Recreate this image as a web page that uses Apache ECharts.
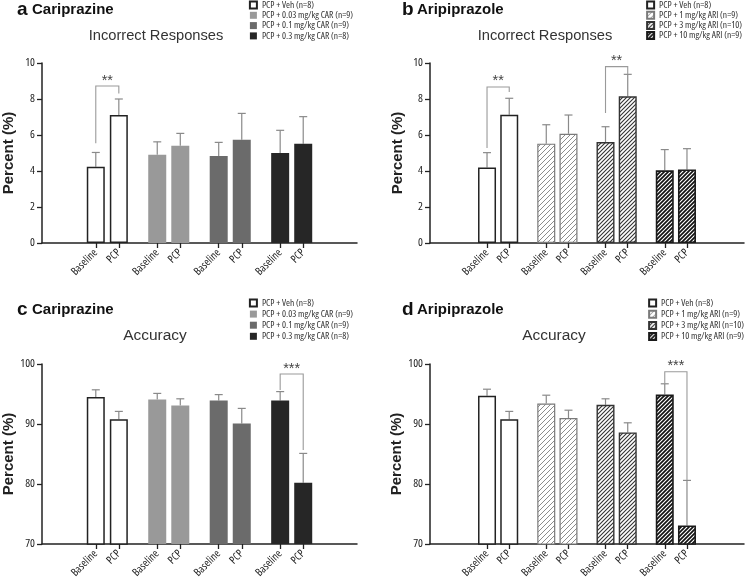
<!DOCTYPE html>
<html><head><meta charset="utf-8">
<script src="https://cdn.jsdelivr.net/npm/echarts@6/dist/echarts.min.js"></script>
<style>html,body{margin:0;padding:0;background:#fff}#c{width:746px;height:583px}</style>
</head><body><div id="c"></div><script>
// ---------------- data ----------------
const xLabels = ['Baseline', 'PCP'];
const carGroups = ['PCP + Veh (n=8)', 'PCP + 0.03 mg/kg CAR (n=9)', 'PCP + 0.1 mg/kg CAR (n=9)', 'PCP + 0.3 mg/kg CAR (n=8)'];
const ariGroups = ['PCP + Veh (n=8)', 'PCP + 1 mg/kg ARI (n=9)', 'PCP + 3 mg/kg ARI (n=10)', 'PCP + 10 mg/kg ARI (n=9)'];

const incorrectCarMean = [4.23, 7.11, 4.90, 5.40, 4.84, 5.73, 5.00, 5.52];
const incorrectCarSem  = [0.80, 0.89, 0.72, 0.69, 0.75, 1.47, 1.26, 1.50];
const incorrectAriMean = [4.19, 7.13, 5.52, 6.07, 5.61, 8.15, 4.04, 4.09];
const incorrectAriSem  = [0.83, 0.91, 1.05, 1.04, 0.85, 1.22, 1.15, 1.15];
const accuracyCarMean  = [94.5, 90.8, 94.1, 93.1, 93.9, 90.1, 93.9, 80.2];
const accuracyCarSem   = [1.2, 1.3, 1.0, 1.1, 1.0, 2.5, 1.5, 4.9];
const accuracyAriMean  = [94.7, 90.8, 93.4, 91.0, 93.2, 88.6, 94.9, 73.1];
const accuracyAriSem   = [1.1, 1.3, 1.4, 1.3, 1.0, 1.6, 1.8, 7.5];

const incorrectTicks = {min: 0, max: 10, interval: 2};
const accuracyTicks  = {min: 70, max: 100, interval: 10};

// significance brackets: bar indices, bracket top, leg ends (data units)
const sigIncorrectCar = [{from: 0, to: 1, top: 8.72, leftEnd: 5.54, rightEnd: 8.30, label: '**'}];
const sigIncorrectAri = [{from: 0, to: 1, top: 8.67, leftEnd: 5.28, rightEnd: 8.39, label: '**'},
                         {from: 4, to: 5, top: 9.80, leftEnd: 7.22, rightEnd: 9.37, label: '**'}];
const sigAccuracyCar  = [{from: 6, to: 7, top: 98.33, leftEnd: 95.67, rightEnd: 85.67, label: '***'}];
const sigAccuracyAri  = [{from: 6, to: 7, top: 98.72, leftEnd: 96.67, rightEnd: 80.67, label: '***'}];

// ---------------- layout / styles ----------------
const NARROW = '"Open Sans", "Roboto Condensed", sans-serif';
const STRETCH = 'condensed';
const SANS = '"Liberation Sans", Arial, sans-serif';
const PAIR = 3, GROUP = 8;
const pos = k => Math.floor(k / 2) * GROUP + (k % 2) * PAIR;
const positions = [0, 1, 2, 3, 4, 5, 6, 7].map(pos);

function hatch(s, color, lw) {
  const c = document.createElement('canvas');
  c.width = s; c.height = s;
  const ctx = c.getContext('2d');
  ctx.fillStyle = '#fff'; ctx.fillRect(0, 0, s, s);
  ctx.strokeStyle = color; ctx.lineWidth = lw; ctx.lineCap = 'square';
  ctx.beginPath();
  ctx.moveTo(0, s); ctx.lineTo(s, 0);
  ctx.moveTo(-s / 2, s / 2); ctx.lineTo(s / 2, -s / 2);
  ctx.moveTo(s / 2, 3 * s / 2); ctx.lineTo(3 * s / 2, s / 2);
  ctx.stroke();
  return {image: c, repeat: 'repeat'};
}
const vehStyle = {color: '#fff', borderColor: '#222', borderWidth: 1.5};
const carStyles = [vehStyle, {color: '#999999'}, {color: '#6b6b6b'}, {color: '#262626'}];
const ariStyles = [vehStyle,
  {color: hatch(5, '#8c8c8c', 1), borderColor: '#7a7a7a', borderWidth: 1.2},
  {color: hatch(4, '#333', 1.1), borderColor: '#333', borderWidth: 1.4},
  {color: hatch(4, '#111', 1.7), borderColor: '#1a1a1a', borderWidth: 1.6}];

const panels = [
  {grid: {left: 42, top: 63, width: 315, height: 180}, xmin: -7, xmax: 34, mean: incorrectCarMean, sem: incorrectCarSem,
   groups: carGroups, styles: carStyles, sig: sigIncorrectCar, ticks: incorrectTicks,
   letter: 'a', drug: 'Cariprazine', lx: 17, base: 15, sub: 'Incorrect Responses', subSize: 14.7, subX: 156, subY: 36,
   legend: {right: 393, top: 0, itemGap: 0.3}},
  {grid: {left: 430, top: 63, width: 314, height: 180}, xmin: -7.7, xmax: 34.7, mean: incorrectAriMean, sem: incorrectAriSem,
   groups: ariGroups, styles: ariStyles, sig: sigIncorrectAri, ticks: incorrectTicks,
   letter: 'b', drug: 'Aripiprazole', lx: 402, base: 15, sub: 'Incorrect Responses', subSize: 14.7, subX: 545, subY: 36,
   legend: {right: 4, top: 0, itemGap: 0.2}},
  {grid: {left: 42, top: 364, width: 315, height: 180}, xmin: -7, xmax: 34, mean: accuracyCarMean, sem: accuracyCarSem,
   groups: carGroups, styles: carStyles, sig: sigAccuracyCar, ticks: accuracyTicks,
   letter: 'c', drug: 'Cariprazine', lx: 17, base: 315, sub: 'Accuracy', subSize: 15.5, subX: 155, subY: 336,
   legend: {right: 393, top: 298, itemGap: 1.1}},
  {grid: {left: 430, top: 364, width: 314, height: 180}, xmin: -7.7, xmax: 34.7, mean: accuracyAriMean, sem: accuracyAriSem,
   groups: ariGroups, styles: ariStyles, sig: sigAccuracyAri, ticks: accuracyTicks,
   letter: 'd', drug: 'Aripiprazole', lx: 402, base: 315, sub: 'Accuracy', subSize: 15.5, subX: 554, subY: 336,
   legend: {right: 2, top: 298, itemGap: 1.2}}
];

const grids = [], xAxes = [], yAxes = [], series = [], legends = [], graphics = [];

function errorBarItem(params, api) {
  const x = api.value(0), m = api.value(1), s = api.value(2);
  const p0 = api.coord([x, m]), p1 = api.coord([x, m + s]);
  const st = {stroke: '#8a8a8a', lineWidth: 1.2};
  return {type: 'group', children: [
    {type: 'line', shape: {x1: p0[0], y1: p0[1], x2: p1[0], y2: p1[1]}, style: st},
    {type: 'line', shape: {x1: p1[0] - 4, y1: p1[1], x2: p1[0] + 4, y2: p1[1]}, style: st}
  ]};
}
function bracketRenderer(sig) {
  return function (params, api) {
    const a = api.value(0), b = api.value(1), top = api.value(2), le = api.value(3), re = api.value(4);
    const pTopL = api.coord([a, top]), pTopR = api.coord([b, top]);
    const pL = api.coord([a, le]), pR = api.coord([b, re]);
    return {type: 'group', children: [
      {type: 'polyline', shape: {points: [pL, pTopL, pTopR, pR]}, style: {stroke: '#9a9a9a', lineWidth: 1.1, fill: null}},
      {type: 'text', x: (pTopL[0] + pTopR[0]) / 2, y: pTopL[1] - 5.5,
       style: {text: sig[params.dataIndex].label, fontSize: 14.5, fontFamily: SANS, fill: '#444', align: 'center', verticalAlign: 'middle'}}
    ]};
  };
}

panels.forEach((p, i) => {
  grids.push(Object.assign({containLabel: false}, p.grid));
  xAxes.push({
    type: 'value', gridIndex: i, min: p.xmin, max: p.xmax, splitLine: {show: false},
    axisLine: {show: true, onZero: false, lineStyle: {color: '#222', width: 1.5}},
    axisTick: {show: true, customValues: positions, length: 5, lineStyle: {color: '#222', width: 1.3}},
    axisLabel: {show: true, customValues: positions, rotate: 45, margin: 8, fontSize: 11, fontFamily: NARROW, fontStyle: STRETCH, color: '#222',
      formatter: v => xLabels[positions.indexOf(Math.round(v)) % 2]}
  });
  yAxes.push({
    type: 'value', gridIndex: i, min: p.ticks.min, max: p.ticks.max, interval: p.ticks.interval, splitLine: {show: false},
    axisLine: {show: true, onZero: false, lineStyle: {color: '#222', width: 1.5}},
    axisTick: {show: true, length: 5, lineStyle: {color: '#222', width: 1.3}},
    axisLabel: {fontSize: 11.5, fontFamily: NARROW, fontStyle: STRETCH, color: '#222', margin: 7},
    name: 'Percent (%)', nameLocation: 'middle', nameGap: i % 2 ? 25 : 26,
    nameTextStyle: {fontSize: 15, fontWeight: 'bold', fontFamily: SANS, color: '#222'}
  });
  p.groups.forEach((name, g) => {
    series.push({
      type: 'bar', name, xAxisIndex: i, yAxisIndex: i, barWidth: 18, barGap: '-100%', z: 3,
      itemStyle: p.styles[g], emphasis: {disabled: true},
      data: [0, 1].map(w => [pos(g * 2 + w), p.mean[g * 2 + w]])
    });
  });
  series.push({
    type: 'custom', xAxisIndex: i, yAxisIndex: i, z: 2, silent: true, renderItem: errorBarItem,
    encode: {x: 0, y: [1, 2]},
    data: p.mean.map((m, k) => [pos(k), m, p.sem[k]])
  });
  series.push({
    type: 'custom', xAxisIndex: i, yAxisIndex: i, z: 4, silent: true, clip: false, renderItem: bracketRenderer(p.sig),
    encode: {x: [0, 1], y: [2, 3, 4]},
    data: p.sig.map(s => [pos(s.from), pos(s.to), s.top, s.leftEnd, s.rightEnd])
  });
  legends.push({
    data: p.groups, orient: 'vertical', right: p.legend.right, top: p.legend.top, align: 'left',
    itemWidth: 7, itemHeight: 7, itemGap: p.legend.itemGap, padding: 0, selectedMode: false, icon: 'rect',
    textStyle: {fontSize: 9.5, lineHeight: 10, fontFamily: NARROW, fontStyle: STRETCH, color: '#333'}
  });
  graphics.push(
    {type: 'text', left: p.lx, top: p.base - 15, style: {text: p.letter, font: 'bold 19px ' + SANS, fill: '#111'}},
    {type: 'text', x: p.lx + 15, y: p.base - 5.2, style: {text: p.drug, font: 'bold 15px ' + SANS, fill: '#111', verticalAlign: 'middle'}},
    {type: 'text', x: p.subX, y: p.subY, style: {text: p.sub, font: p.subSize + 'px ' + SANS, fill: '#333', align: 'center', verticalAlign: 'middle'}}
  );
});

const chart = echarts.init(document.getElementById('c'), null, {renderer: 'canvas'});
chart.setOption({
  animation: false,
  backgroundColor: '#fff',
  grid: grids, xAxis: xAxes, yAxis: yAxes, series, legend: legends, graphic: graphics
});
</script></body></html>
